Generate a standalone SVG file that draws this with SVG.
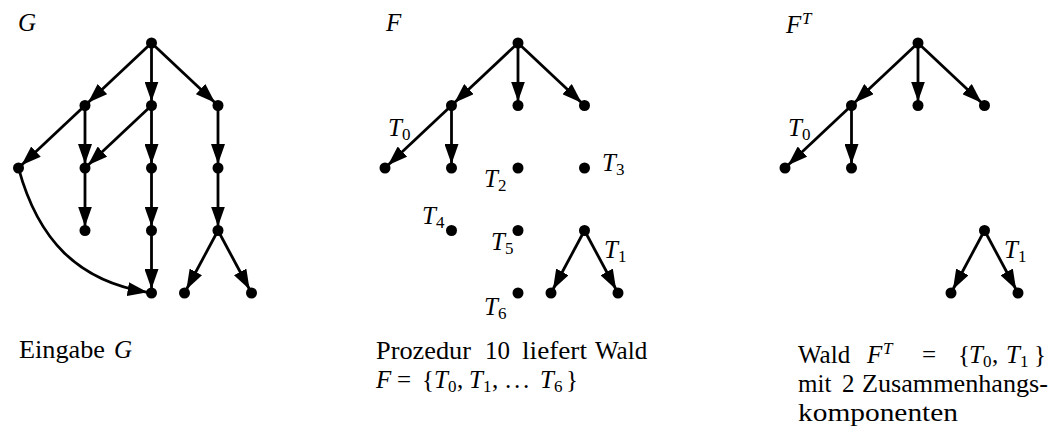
<svg xmlns="http://www.w3.org/2000/svg" width="1055" height="428" viewBox="0 0 1055 428">
<style>
.e{stroke:#000;stroke-width:2.8;fill:none;marker-end:url(#ah)}
.n{fill:#000}
text{font-family:'Liberation Serif','Times New Roman',serif;fill:#000}
.t{font-size:25px}
.i{font-style:italic}
.s{font-size:17px}
</style>
<defs>
<marker id="ah" viewBox="0 0 20 14" refX="20" refY="7" markerWidth="20" markerHeight="14" markerUnits="userSpaceOnUse" orient="auto"><path d="M0,0 L20,7 L0,14 z" fill="#000"/></marker>
</defs>
<rect width="1055" height="428" fill="#fff"/>
<g id="connectors">
<path class="e" d="M151.5,43 L87.9,102.8"/>
<path class="e" d="M151.5,43 L151.5,101.5"/>
<path class="e" d="M151.5,43 L215.1,102.8"/>
<path class="e" d="M85,105.5 L21.4,165.3"/>
<path class="e" d="M85,105.5 L85,164"/>
<path class="e" d="M151.5,105.5 L87.9,165.3"/>
<path class="e" d="M151.5,105.5 L151.5,164"/>
<path class="e" d="M218,105.5 L218,164"/>
<path class="e" d="M85,168 L85,226.5"/>
<path class="e" d="M151.5,168 L151.5,226.5"/>
<path class="e" d="M218,168 L218,226.5"/>
<path class="e" d="M151.5,230.5 L151.5,289"/>
<path class="e" d="M218,230.5 L186.4,289.5"/>
<path class="e" d="M218,230.5 L249.6,289.5"/>
<path class="e" d="M18.5,168 C38,240 78,281 147.6,292.3"/>
<path class="e" d="M518,43 L454.4,102.8"/>
<path class="e" d="M518,43 L518,101.5"/>
<path class="e" d="M518,43 L581.6,102.8"/>
<path class="e" d="M451.5,105.5 L387.9,165.3"/>
<path class="e" d="M451.5,105.5 L451.5,164"/>
<path class="e" d="M584.5,230.5 L552.9,289.5"/>
<path class="e" d="M584.5,230.5 L616.1,289.5"/>
<path class="e" d="M918,43 L854.4,102.8"/>
<path class="e" d="M918,43 L918,101.5"/>
<path class="e" d="M918,43 L981.6,102.8"/>
<path class="e" d="M851.5,105.5 L787.9,165.3"/>
<path class="e" d="M851.5,105.5 L851.5,164"/>
<path class="e" d="M984.5,230.5 L952.9,289.5"/>
<path class="e" d="M984.5,230.5 L1016.1,289.5"/>
</g>
<g id="g0"><circle class="n" cx="151.5" cy="43" r="5.5"/></g>
<g id="g1"><circle class="n" cx="85" cy="105.5" r="5.5"/></g>
<g id="g2"><circle class="n" cx="151.5" cy="105.5" r="5.5"/></g>
<g id="g3"><circle class="n" cx="218" cy="105.5" r="5.5"/></g>
<g id="g4"><circle class="n" cx="18.5" cy="168" r="5.5"/></g>
<g id="g5"><circle class="n" cx="85" cy="168" r="5.5"/></g>
<g id="g6"><circle class="n" cx="151.5" cy="168" r="5.5"/></g>
<g id="g7"><circle class="n" cx="218" cy="168" r="5.5"/></g>
<g id="g8"><circle class="n" cx="85" cy="230.5" r="5.5"/></g>
<g id="g9"><circle class="n" cx="151.5" cy="230.5" r="5.5"/></g>
<g id="g10"><circle class="n" cx="218" cy="230.5" r="5.5"/></g>
<g id="g11"><circle class="n" cx="151.5" cy="293" r="5.5"/></g>
<g id="g12"><circle class="n" cx="184.5" cy="293" r="5.5"/></g>
<g id="g13"><circle class="n" cx="251.5" cy="293" r="5.5"/></g>
<g id="f0"><circle class="n" cx="518" cy="43" r="5.5"/></g>
<g id="f1"><circle class="n" cx="451.5" cy="105.5" r="5.5"/></g>
<g id="f2"><circle class="n" cx="518" cy="105.5" r="5.5"/></g>
<g id="f3"><circle class="n" cx="584.5" cy="105.5" r="5.5"/></g>
<g id="f4"><circle class="n" cx="385" cy="168" r="5.5"/></g>
<g id="f5"><circle class="n" cx="451.5" cy="168" r="5.5"/></g>
<g id="f6"><circle class="n" cx="518" cy="168" r="5.5"/></g>
<g id="f7"><circle class="n" cx="584.5" cy="168" r="5.5"/></g>
<g id="f8"><circle class="n" cx="451.5" cy="230.5" r="5.5"/></g>
<g id="f9"><circle class="n" cx="518" cy="230.5" r="5.5"/></g>
<g id="f10"><circle class="n" cx="584.5" cy="230.5" r="5.5"/></g>
<g id="f11"><circle class="n" cx="518" cy="293" r="5.5"/></g>
<g id="f12"><circle class="n" cx="551" cy="293" r="5.5"/></g>
<g id="f13"><circle class="n" cx="618" cy="293" r="5.5"/></g>
<g id="t0"><circle class="n" cx="918" cy="43" r="5.5"/></g>
<g id="t1"><circle class="n" cx="851.5" cy="105.5" r="5.5"/></g>
<g id="t2"><circle class="n" cx="918" cy="105.5" r="5.5"/></g>
<g id="t3"><circle class="n" cx="984.5" cy="105.5" r="5.5"/></g>
<g id="t4"><circle class="n" cx="785" cy="168" r="5.5"/></g>
<g id="t5"><circle class="n" cx="851.5" cy="168" r="5.5"/></g>
<g id="t6"><circle class="n" cx="984.5" cy="230.5" r="5.5"/></g>
<g id="t7"><circle class="n" cx="951" cy="293" r="5.5"/></g>
<g id="t8"><circle class="n" cx="1018" cy="293" r="5.5"/></g>
<g id="labels">
<text class="t i" x="18" y="30.5">G</text>
<text class="t i" x="386" y="30.5">F</text>
<text class="t i" x="786" y="33">F</text><text class="s i" x="802" y="24">T</text>
<text class="t i" x="388" y="135.5">T</text><text class="s" x="402" y="139.5">0</text>
<text class="t i" x="484" y="186.5">T</text><text class="s" x="498" y="190.5">2</text>
<text class="t i" x="602" y="170.5">T</text><text class="s" x="616" y="174.5">3</text>
<text class="t i" x="422" y="224">T</text><text class="s" x="436" y="228">4</text>
<text class="t i" x="491" y="249.5">T</text><text class="s" x="505" y="253.5">5</text>
<text class="t i" x="604" y="258">T</text><text class="s" x="618" y="262">1</text>
<text class="t i" x="484" y="314.5">T</text><text class="s" x="498" y="318.5">6</text>
<text class="t i" x="788" y="135.5">T</text><text class="s" x="802" y="139.5">0</text>
<text class="t i" x="1004" y="258">T</text><text class="s" x="1018" y="262">1</text>
</g>
<g id="captions">
<text class="t" x="19" y="358" textLength="86" lengthAdjust="spacingAndGlyphs">Eingabe</text><text class="t i" x="114" y="358">G</text>
<text class="t" x="376" y="359" textLength="95" lengthAdjust="spacingAndGlyphs">Prozedur</text>
<text class="t" x="485" y="359">10</text>
<text class="t" x="522" y="359" textLength="65" lengthAdjust="spacingAndGlyphs">liefert</text>
<text class="t" x="595" y="359">Wald</text>
<text class="t i" x="376" y="388">F</text>
<text class="t" x="397" y="388">=</text>
<text class="t" x="422" y="388">{</text>
<text class="t i" x="434" y="388">T</text><text class="s" x="448" y="392">0</text>
<text class="t" x="457" y="388">,</text>
<text class="t i" x="469" y="388">T</text><text class="s" x="483" y="392">1</text>
<text class="t" x="492" y="388">,</text>
<text class="t" x="505" y="388">.</text><text class="t" x="514" y="388">.</text><text class="t" x="523" y="388">.</text>
<text class="t i" x="540" y="388">T</text><text class="s" x="554" y="392">6</text>
<text class="t" x="566" y="388">}</text>
<text class="t" x="798" y="363">Wald</text>
<text class="t i" x="867" y="363">F</text><text class="s i" x="883" y="354">T</text>
<text class="t" x="922" y="363">=</text>
<text class="t" x="958" y="363">{</text>
<text class="t i" x="969" y="363">T</text><text class="s" x="983" y="367">0</text>
<text class="t" x="992" y="363">,</text>
<text class="t i" x="1006" y="363">T</text><text class="s" x="1020" y="367">1</text>
<text class="t" x="1034" y="363">}</text>
<text class="t" x="798" y="392">mit</text>
<text class="t" x="842" y="392">2</text>
<text class="t" x="862" y="392" textLength="186" lengthAdjust="spacingAndGlyphs">Zusammenhangs-</text>
<text class="t" x="798" y="421" textLength="160" lengthAdjust="spacingAndGlyphs">komponenten</text>
</g>
</svg>
